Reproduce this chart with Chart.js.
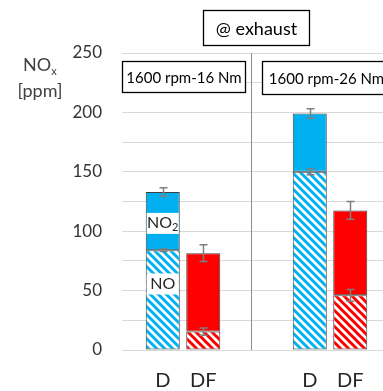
<!DOCTYPE html>
<html>
<head>
<meta charset="utf-8">
<script src="https://cdn.jsdelivr.net/npm/chart.js@4.4.1/dist/chart.umd.min.js"></script>
<style>
  html, body { margin: 0; padding: 0; background: #fff; }
  #wrap { width: 383px; height: 391px; position: relative; }
</style>
</head>
<body>
<div id="wrap"><canvas id="myChart" width="383" height="391"></canvas></div>
<script>
// operating points (groups) and fuel cases
var groups = ['1600 rpm-16 Nm', '1600 rpm-26 Nm'];
var fuels = ['D', 'DF'];
var yTicks = [0, 50, 100, 150, 200, 250];

// NO and NO2 (ppm), per group
var dNO = [84, 150];
var dNO2 = [49, 49];
var dfNO = [15.5, 46];
var dfNO2 = [66, 71.5];

// error bars (ppm) at the top of each segment
var dNOErr = [1, 2.5];
var dTotErr = [3.5, 4];
var dfNOErr = [3, 5];
var dfTotErr = [7, 7.5];

var blue = '#00b0f0', red = '#ff0000', edge = '#3f3f3f';

function hatch(color) {
  var c = document.createElement('canvas');
  c.width = 8; c.height = 8;
  var g = c.getContext('2d');
  g.fillStyle = '#fff';
  g.fillRect(0, 0, 8, 8);
  g.strokeStyle = color;
  g.lineWidth = 3;
  g.beginPath();
  g.moveTo(-2, -2); g.lineTo(10, 10);
  g.moveTo(-10, -2); g.lineTo(2, 10);
  g.moveTo(6, -2); g.lineTo(18, 10);
  g.stroke();
  return g.createPattern(c, 'repeat');
}

function pts(arr) {
  return arr.map(function(v, i) { return { x: i, y: v }; });
}

var ctx = document.getElementById('myChart').getContext('2d');

var extras = {
  id: 'extras',
  afterDatasetsDraw: function(chart) {
    var c = chart.ctx, ys = chart.scales.y, xs = chart.scales.x;
    var area = chart.chartArea;

    // error bars
    var errs = [[dNO, null, dNOErr, 0], [dNO, dNO2, dTotErr, 1], [dfNO, null, dfNOErr, 2], [dfNO, dfNO2, dfTotErr, 3]];
    c.save();
    c.strokeStyle = '#7f7f7f';
    c.lineWidth = 1.5;
    errs.forEach(function(e) {
      var meta = chart.getDatasetMeta(e[3]);
      meta.data.forEach(function(bar, i) {
        var v = e[0][i] + (e[1] ? e[1][i] : 0);
        var t = ys.getPixelForValue(v + e[2][i]);
        var b = ys.getPixelForValue(v - e[2][i]);
        var x = Math.round(bar.x) + 0.5;
        c.beginPath();
        c.moveTo(x, t); c.lineTo(x, b);
        c.moveTo(x - 4, t); c.lineTo(x + 4, t);
        c.moveTo(x - 4, b); c.lineTo(x + 4, b);
        c.stroke();
      });
    });
    c.restore();

    // labels inside the first diesel bar
    var d0 = chart.getDatasetMeta(0).data[0];
    c.save();
    c.textBaseline = 'middle';
    function tag(main, sub, yv) {
      var y = ys.getPixelForValue(yv);
      c.font = '16px Lato';
      var w1 = c.measureText(main).width;
      c.font = '11px Lato';
      var w2 = sub ? c.measureText(sub).width : 0;
      c.fillStyle = '#fff';
      c.fillRect(d0.x - 16, y - 10, 32, 21);
      var x0 = d0.x - (w1 + w2) / 2;
      c.fillStyle = '#262626';
      c.textAlign = 'left';
      c.font = '16px Lato';
      c.fillText(main, x0, y);
      if (sub) { c.font = '11px Lato'; c.fillText(sub, x0 + w1, y + 5); }
    }
    tag('NO', '2', 107);
    tag('NO', null, 56);
    c.restore();

    // fuel labels under bars
    c.save();
    c.font = '20px Lato';
    c.fillStyle = '#262626';
    c.textAlign = 'center';
    c.textBaseline = 'middle';
    [0, 2].forEach(function(di, k) {
      chart.getDatasetMeta(di).data.forEach(function(bar) {
        c.fillText(fuels[k], bar.x, area.bottom + 31);
      });
    });
    c.restore();

    // group separator
    c.save();
    c.strokeStyle = '#8c8c8c';
    c.lineWidth = 1;
    var sx = Math.round(xs.getPixelForValue(0.462)) + 0.5;
    c.beginPath();
    c.moveTo(sx, area.top); c.lineTo(sx, area.bottom);
    c.stroke();
    c.restore();

    // text boxes
    c.save();
    c.strokeStyle = '#000';
    c.lineWidth = 1.3;
    function box(x, y, w, h, txt, size) {
      c.fillStyle = '#fff';
      c.fillRect(x, y, w, h);
      c.strokeRect(x, y, w, h);
      c.fillStyle = '#000';
      c.font = size + 'px Lato';
      c.textAlign = 'center';
      c.textBaseline = 'middle';
      c.fillText(txt, x + w / 2, y + h / 2 + 1);
    }
    box(203.5, 10.5, 106, 35, '@ exhaust', 18);
    box(122.5, 61.5, 123, 31, groups[0], 15);
    box(262.5, 61.5, 128, 33, groups[1], 15);
    c.restore();

    // y title
    c.save();
    c.fillStyle = '#404040';
    c.textBaseline = 'middle';
    c.textAlign = 'left';
    c.font = '18px Lato';
    var wn = c.measureText('NO').width;
    c.fillText('NO', 23, 65);
    c.font = '11px Lato';
    c.fillText('x', 23 + wn, 71);
    c.font = '18px Lato';
    c.textAlign = 'center';
    c.fillText('[ppm]', 40, 91);
    c.restore();
  }
};

var common = { borderColor: edge, borderWidth: 1, borderSkipped: false,
  categoryPercentage: 0.551, barPercentage: 0.84 };

var chart = new Chart(ctx, {
  type: 'bar',
  data: {
    datasets: [
      Object.assign({ label: 'D NO', data: pts(dNO), backgroundColor: hatch(blue), stack: 'D' }, common),
      Object.assign({ label: 'D NO2', data: pts(dNO2), backgroundColor: blue, stack: 'D' }, common),
      Object.assign({ label: 'DF NO', data: pts(dfNO), backgroundColor: hatch(red), stack: 'DF' }, common),
      Object.assign({ label: 'DF NO2', data: pts(dfNO2), backgroundColor: red, stack: 'DF' }, common)
    ]
  },
  options: {
    responsive: false,
    animation: false,
    layout: { padding: { top: 53, bottom: 41, left: 0, right: 0 } },
    plugins: { legend: { display: false }, tooltip: { enabled: false } },
    scales: {
      x: {
        type: 'linear',
        stacked: true,
        offset: false,
        min: -0.415,
        max: 1.3605,
        display: false,
        afterBuildTicks: function(s) { s.ticks = groups.map(function(g, i) { return { value: i }; }); }
      },
      y: {
        stacked: true,
        min: 0,
        max: 250,
        border: { display: false },
        grid: { color: '#d9d9d9', drawTicks: false, lineWidth: 1 },
        ticks: {
          stepSize: 25,
          padding: 20,
          color: '#333',
          font: { family: 'Lato', size: 17 },
          callback: function(v) { return yTicks.indexOf(v) >= 0 ? v : ''; }
        },
        afterFit: function(s) { s.width = 122; }
      }
    }
  },
  plugins: [extras]
});
</script>
</body>
</html>
